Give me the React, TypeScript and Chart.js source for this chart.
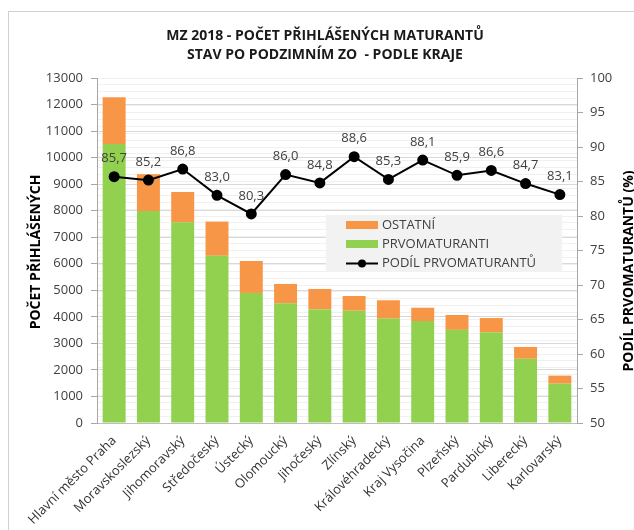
import { useEffect, useRef } from 'react';
import { Chart, registerables } from 'chart.js';

Chart.register(...registerables);

const regions = [
  'Hlavní město Praha',
  'Moravskoslezský',
  'Jihomoravský',
  'Středočeský',
  'Ústecký',
  'Olomoucký',
  'Jihočeský',
  'Zlínský',
  'Královéhradecký',
  'Kraj Vysočina',
  'Plzeňský',
  'Pardubický',
  'Liberecký',
  'Karlovarský',
];

const prvomaturanti = [10515, 7985, 7560, 6300, 4900, 4510, 4290, 4230, 3935, 3840, 3510, 3420, 2420, 1482];
const ostatni = [1755, 1390, 1145, 1290, 1205, 730, 760, 555, 690, 505, 560, 535, 445, 303];
const podil = [85.7, 85.2, 86.8, 83.0, 80.3, 86.0, 84.8, 88.6, 85.3, 88.1, 85.9, 86.6, 84.7, 83.1];

const titleLines = ['MZ 2018 - POČET PŘIHLÁŠENÝCH MATURANTŮ', 'STAV PO PODZIMNÍM ZO  - PODLE KRAJE'];
const leftTitle = 'POČET PŘIHLÁŠENÝCH';
const rightTitle = 'PODÍL PRVOMATURANTŮ (%)';
const legendLabels = ['OSTATNÍ', 'PRVOMATURANTI', 'PODÍL PRVOMATURANTŮ'];

const FONT = '"Open Sans", "Liberation Sans", sans-serif';
const TXT = '#404040';
const ORANGE = '#F79646';
const GREEN = '#92D050';

const decorPlugin = {
  id: 'decor',
  afterDatasetsDraw(chart: any) {
    const ctx = chart.ctx;
    const meta = chart.getDatasetMeta(2);
    ctx.save();
    ctx.font = `13px ${FONT}`;
    ctx.fillStyle = TXT;
    ctx.textAlign = 'center';
    ctx.textBaseline = 'middle';
    meta.data.forEach((pt: any, i: number) => {
      ctx.fillText(podil[i].toFixed(1).replace('.', ','), pt.x, pt.y - 18);
    });
    ctx.restore();
  },
  afterDraw(chart: any) {
    const ctx = chart.ctx;
    ctx.save();
    ctx.font = `bold 14px ${FONT}`;
    ctx.fillStyle = '#1a1a1a';
    ctx.textAlign = 'center';
    ctx.textBaseline = 'middle';
    ctx.fillText(titleLines[0], 325, 36);
    ctx.fillText(titleLines[1], 325, 55);
    ctx.fillStyle = '#000000';
    ctx.save();
    ctx.translate(36, 252);
    ctx.rotate(-Math.PI / 2);
    ctx.fillText(leftTitle, 0, 0);
    ctx.restore();
    ctx.save();
    ctx.translate(629, 271);
    ctx.rotate(-Math.PI / 2);
    ctx.fillText(rightTitle, 0, 0);
    ctx.restore();

    const bx = 326, by = 215, bw = 236, bh = 57;
    ctx.fillStyle = '#F2F2F2';
    ctx.fillRect(bx, by, bw, bh);
    ctx.font = `13px ${FONT}`;
    ctx.textAlign = 'left';
    ctx.textBaseline = 'middle';
    ctx.fillStyle = ORANGE;
    ctx.fillRect(346, 221, 32, 8);
    ctx.fillStyle = GREEN;
    ctx.fillRect(346, 240, 32, 8);
    ctx.strokeStyle = '#000000';
    ctx.lineWidth = 2;
    ctx.beginPath();
    ctx.moveTo(346, 263.5);
    ctx.lineTo(378, 263.5);
    ctx.stroke();
    ctx.fillStyle = '#000000';
    ctx.beginPath();
    ctx.arc(362, 263.5, 4, 0, Math.PI * 2);
    ctx.fill();
    ctx.fillStyle = TXT;
    ctx.fillText(legendLabels[0], 382, 225);
    ctx.fillText(legendLabels[1], 382, 244);
    ctx.fillText(legendLabels[2], 382, 263);
    ctx.restore();
  },
};

export default function App() {
  const ref = useRef<HTMLCanvasElement>(null);
  useEffect(() => {
    document.body.style.margin = '0';
    const chart = new Chart(ref.current as HTMLCanvasElement, {
      type: 'bar',
      data: {
        labels: regions,
        datasets: [
          {
            type: 'bar',
            label: 'PRVOMATURANTI',
            data: prvomaturanti,
            backgroundColor: GREEN,
            yAxisID: 'y',
            stack: 's',
            order: 2,
            barPercentage: 0.67,
            categoryPercentage: 1,
          },
          {
            type: 'bar',
            label: 'OSTATNÍ',
            data: ostatni,
            backgroundColor: ORANGE,
            yAxisID: 'y',
            stack: 's',
            order: 2,
            barPercentage: 0.67,
            categoryPercentage: 1,
          },
          {
            type: 'line',
            label: 'PODÍL PRVOMATURANTŮ',
            data: podil,
            borderColor: '#000000',
            backgroundColor: '#000000',
            borderWidth: 2,
            pointRadius: 4.5,
            pointBackgroundColor: '#000000',
            yAxisID: 'y2',
            order: 0,
          } as any,
        ],
      },
      options: {
        animation: false,
        responsive: true,
        maintainAspectRatio: false,
        layout: { padding: { top: 78, left: 0, right: 0, bottom: 0 } },
        plugins: { legend: { display: false }, tooltip: { enabled: false }, title: { display: false } },
        scales: {
          x: {
            stacked: true,
            grid: { display: false },
            border: { display: true, color: '#BFBFBF' },
            ticks: {
              color: '#333333',
              font: { family: FONT, size: 13 },
              minRotation: 45,
              maxRotation: 45,
              autoSkip: false,
              padding: 2,
            },
            afterFit(scale: any) {
              scale.height = 107;
            },
          },
          y: {
            stacked: true,
            position: 'left',
            min: 0,
            max: 13000,
            ticks: {
              stepSize: 1000,
              color: TXT,
              font: { family: FONT, size: 13 },
              padding: 8,
              callback: (v: any) => String(v),
            },
            grid: { color: '#D9D9D9', tickLength: 6, tickColor: '#A6A6A6' },
            border: { display: true, color: '#A6A6A6' },
            afterFit(scale: any) {
              scale.width = 97;
            },
          },
          y2: {
            position: 'right',
            min: 50,
            max: 100,
            ticks: {
              stepSize: 1,
              autoSkip: false,
              color: TXT,
              font: { family: FONT, size: 13 },
              padding: 7,
              callback: (v: any) => (Number(v) % 5 === 0 ? String(v) : ''),
            },
            grid: {
              color: '#F0F0F0',
              tickLength: 6,
              tickColor: (c: any) => (c.tick && c.tick.value % 5 === 0 ? '#A6A6A6' : 'rgba(0,0,0,0)'),
            },
            border: { display: true, color: '#A6A6A6' },
            afterFit(scale: any) {
              scale.width = 57;
            },
          },
        },
      },
      plugins: [decorPlugin],
    });
    return () => chart.destroy();
  }, []);

  return (
    <div style={{ position: 'relative', width: 634, height: 530, overflow: 'hidden', background: '#fff' }}>
      <canvas ref={ref} />
      <div
        style={{
          position: 'absolute',
          left: 8,
          top: 11,
          right: -2,
          bottom: -2,
          borderLeft: '1px solid #D0D0D0',
          borderTop: '1px solid #D0D0D0',
          pointerEvents: 'none',
        }}
      />
    </div>
  );
}
